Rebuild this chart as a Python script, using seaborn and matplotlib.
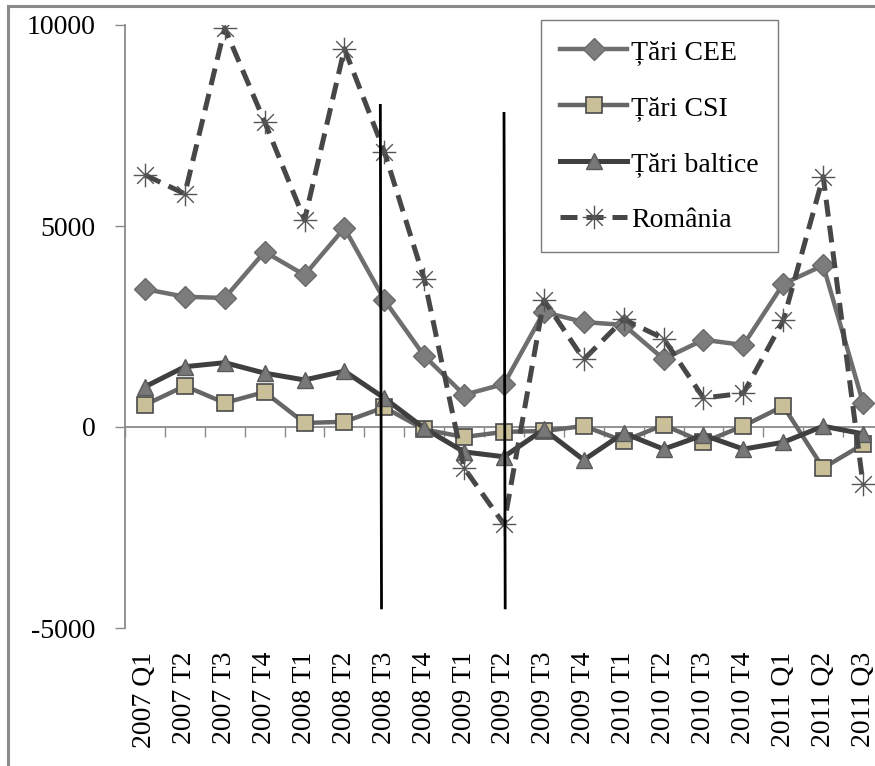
import numpy as np
import pandas as pd
import matplotlib
matplotlib.use("Agg")
import matplotlib.pyplot as plt
import seaborn as sns
from matplotlib.path import Path
from matplotlib.patches import Rectangle

# Quarterly categories
quarters = ["2007 Q1", "2007 T2", "2007 T3", "2007 T4", "2008 T1", "2008 T2",
            "2008 T3", "2008 T4", "2009 T1", "2009 T2", "2009 T3", "2009 T4",
            "2010 T1", "2010 T2", "2010 T3", "2010 T4", "2011 Q1", "2011 Q2",
            "2011 Q3"]

cee = [3430, 3240, 3210, 4360, 3780, 4950, 3160, 1770, 800, 1070,
       2860, 2610, 2540, 1690, 2170, 2040, 3560, 4020, 600]
csi = [550, 1020, 600, 870, 100, 130, 490, -60, -250, -120,
       -100, 25, -350, 50, -380, 25, 520, -1020, -430]
baltice = [1000, 1500, 1600, 1340, 1170, 1390, 720, -30, -620, -740,
           -60, -820, -150, -550, -200, -550, -380, 20, -170]
romania = [6270, 5800, 9920, 7590, 5150, 9410, 6850, 3680, -1020, -2420,
           3160, 1680, 2680, 2200, 720, 840, 2650, 6230, -1430]

series_names = ["\u021a\u0103ri CEE", "\u021a\u0103ri CSI", "\u021a\u0103ri baltice", "Rom\u00e2nia"]

y_ticks = [10000, 5000, 0, -5000]
y_tick_labels = ["10000", "5000", "0", "-5000"]

# Vertical markers: (x position, top value); all run down to the same bottom value
event_lines = [(5.9, 8000), (9.0, 7800)]
event_bottom = -4500

df = pd.DataFrame({"quarter": quarters * 4,
                   "value": cee + csi + baltice + romania,
                   "series": np.repeat(series_names, len(quarters))})

serif = "Liberation Serif"
fig = plt.figure(figsize=(8.75, 7.66), dpi=100)
W, H = 875, 766
ax = fig.add_axes([125 / W, (H - 628) / H, 758 / W, 603 / H])

# asterisk marker: "+" and "x" combined
s = 0.5
d = 0.5 * 0.7071
star = Path([(-s, 0), (s, 0), (0, -s), (0, s), (-d, -d), (d, d), (-d, d), (d, -d)],
            [Path.MOVETO, Path.LINETO] * 4)

styles = {
    series_names[0]: dict(color="#6e6e6e", lw=3.2, marker="D", ms=11,
                          mfc="#7c7c7c", mec="#6a6a6a", mew=1),
    series_names[1]: dict(color="#666666", lw=3.2, marker="s", ms=11,
                          mfc="#c9c09a", mec="#4a4a4a", mew=1.2),
    series_names[2]: dict(color="#3f3f3f", lw=3.6, marker="^", ms=12,
                          mfc="#787878", mec="#5a5a5a", mew=1),
    series_names[3]: dict(color="#474747", lw=3.6, linestyle=(0, (3.4, 1.8)),
                          marker=star, ms=17, mfc="none", mec="#555555", mew=1.0),
}

for name in series_names:
    sub = df[df["series"] == name]
    sns.lineplot(data=sub, x="quarter", y="value", ax=ax, label=name,
                 sort=False, estimator=None, **styles[name])

for xpos, top in event_lines:
    ax.plot([xpos, xpos + 0.03], [top, event_bottom], color="black", lw=2, zorder=5)

ax.set_xlim(-0.5, len(quarters) - 0.5)
ax.set_ylim(-5000, 10000)
ax.set_xlabel("")
ax.set_ylabel("")
ax.set_facecolor("white")

for side in ["top", "right", "bottom"]:
    ax.spines[side].set_visible(False)
ax.spines["left"].set_color("#8a8a8a")
ax.spines["left"].set_linewidth(1.3)

ax.set_yticks(y_ticks)
ax.set_yticklabels(y_tick_labels, fontfamily=serif, fontsize=20)
ax.tick_params(axis="y", direction="out", length=7, width=1, color="#8a8a8a", pad=14)

ax.set_xticks(range(len(quarters)))
ax.set_xticklabels(quarters, rotation=90, fontfamily=serif, fontsize=20)
ax.tick_params(axis="x", length=0, pad=17)

# zero line with category boundary ticks
zero_axis = ax.secondary_xaxis(1 / 3)
zero_axis.set_xticks(np.arange(len(quarters) + 1) - 0.5)
zero_axis.set_xticklabels([])
zero_axis.tick_params(direction="out", length=7, width=1, color="#8a8a8a")
zero_axis.spines["bottom"].set_color("#8a8a8a")
zero_axis.spines["bottom"].set_linewidth(1.3)
zero_axis.set_zorder(0)

leg = ax.legend(loc="upper left", bbox_to_anchor=(541 / W, 1 - 20 / H),
                bbox_transform=fig.transFigure, borderaxespad=0,
                prop={"family": serif, "size": 20}, frameon=True, fancybox=False,
                edgecolor="#7a7a7a", framealpha=1, handlelength=2.4,
                handletextpad=0.15, labelspacing=1.1, borderpad=0.7,
                numpoints=1)
leg.get_frame().set_linewidth(1)

# outer chart border
fig.patches.append(Rectangle((8 / W, -0.1), 1.2, (H - 6) / H + 0.1,
                             transform=fig.transFigure, fill=False,
                             edgecolor="#8a8a8a", lw=2.2))

fig.savefig("out.png", dpi=100)
